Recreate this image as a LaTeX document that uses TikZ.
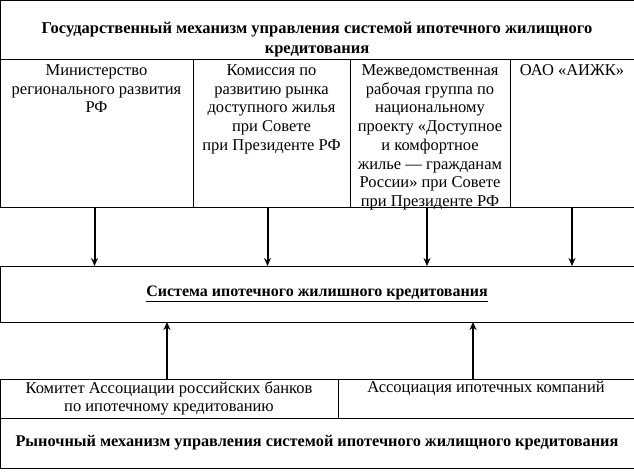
\documentclass[tikz,border=0pt]{standalone}
\usepackage{fontspec}
\setmainfont{Liberation Serif}
\usetikzlibrary{arrows.meta, positioning}

\begin{document}
\begin{tikzpicture}[x=1pt,y=-1pt]
        \tikzstyle{box} = [rectangle, draw, line width=0.9pt, outer sep=0pt, inner sep=0pt, anchor=north west, font=\fontsize{16.5}{18.7}\selectfont, align=center]
        \tikzstyle{txt} = [anchor=north, align=center, inner sep=2pt, font=\fontsize{16.5}{18.7}\selectfont]
        \tikzstyle{arrow} = [line width=2pt,-{Stealth[length=8pt,width=7pt]}]

        \useasboundingbox (0,0) rectangle (634,476);

        \node (gov) [box, minimum width=634pt, minimum height=59pt] at (0,0.5) {};
        \node (govtxt) [txt, font=\fontsize{16.5}{19.5}\selectfont\bfseries] at (317,20) {Государственный механизм управления системой ипотечного жилищного\\кредитования};

        \node (min) [box, minimum width=193pt, minimum height=148pt] at (0,59.5) {};
        \node (kom) [box, right=0pt of min, minimum width=157pt, minimum height=148pt] {};
        \node (mvg) [box, right=0pt of kom, minimum width=160pt, minimum height=148pt] {};
        \node (aijk) [box, right=0pt of mvg, minimum width=124pt, minimum height=148pt] {};

        \node (mintxt) [txt] at ([yshift=-3pt]min.north) {Министерство\\регионального развития\\РФ};
        \node (komtxt) [txt] at ([yshift=-3pt]kom.north) {Комиссия по\\развитию рынка\\доступного жилья\\при Совете\\при Президенте РФ};
        \node (mvgtxt) [txt] at ([yshift=-3pt]mvg.north) {Межведомственная\\рабочая группа по\\национальному\\проекту «Доступное\\и комфортное\\жилье — гражданам\\России» при Совете\\при Президенте РФ};
        \node (aijktxt) [txt] at ([yshift=-3pt]aijk.north) {ОАО «АИЖК»};

        \node (sys) [box, minimum width=634pt, minimum height=56pt, font=\fontsize{16}{18.7}\selectfont\bfseries] at (0,266) {\underline{Система ипотечного жилишного кредитования}};

        \node (kar) [box, minimum width=338pt, minimum height=39pt] at (0,379) {Комитет Ассоциации российских банков\\по ипотечному кредитованию};
        \node (aik) [box, right=0pt of kar, minimum width=296pt, minimum height=39pt] {};
        \node (aiktxt) [txt] at (aik.north) {Ассоциация ипотечных компаний};

        \node (rynok) [box, below=0pt of kar.south west, anchor=north west, minimum width=634pt, minimum height=50pt, font=\fontsize{16.3}{18.7}\selectfont\bfseries] {Рыночный механизм управления системой ипотечного жилищного кредитования};

        \draw [arrow] ([xshift=-2pt]min.south) -- ([xshift=-2pt]min.south |- sys.north);
        \draw [arrow] ([xshift=-4pt]kom.south) -- ([xshift=-4pt]kom.south |- sys.north);
        \draw [arrow] ([xshift=-3pt]mvg.south) -- ([xshift=-3pt]mvg.south |- sys.north);
        \draw [arrow] (aijk.south) -- (aijk.south |- sys.north);

        \draw [arrow] ([xshift=-2pt]kar.north) -- ([xshift=-2pt]kar.north |- sys.south);
        \draw [arrow] ([xshift=-13pt]aik.north) -- ([xshift=-13pt]aik.north |- sys.south);
\end{tikzpicture}
\end{document}
